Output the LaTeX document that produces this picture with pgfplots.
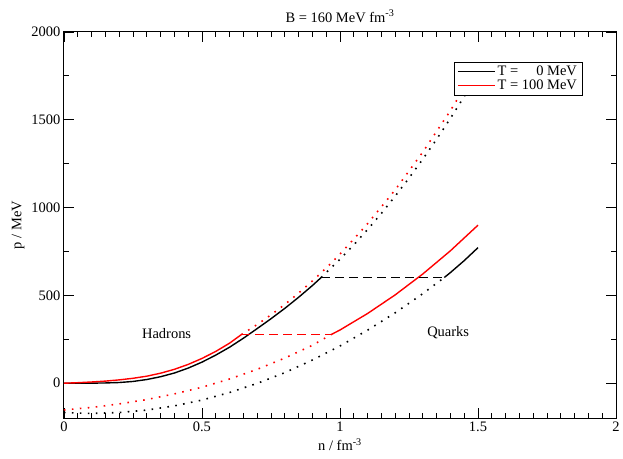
\documentclass[border=0pt]{standalone}
\usepackage{fontspec}
\setmainfont{Liberation Serif}
\usepackage{pgfplots}
\pgfplotsset{compat=1.18}

\begin{document}
\begin{tikzpicture}
\begin{axis}[
  scale only axis, width=553pt, height=387pt,
  xmin=0, xmax=2, ymin=-200, ymax=2000,
  xtick={0,0.5,1,1.5,2}, ytick={0,500,1000,1500,2000},
  minor x tick num=9, minor y tick num=1,
  tick align=inside, major tick length=10pt, minor tick length=5pt,
  scaled ticks=false,
  /pgf/number format/assume math mode=true,
  /pgf/number format/set thousands separator={},
  tick label style={font=\fontsize{14.5pt}{17pt}\selectfont},
  label style={font=\fontsize{14.5pt}{17pt}\selectfont},
  title style={font=\fontsize{14.5pt}{17pt}\selectfont},
  axis line style={line width=0.9pt},
  every tick/.style={black, line width=0.8pt},
  title={B = 160 MeV fm\textsuperscript{-3}},
  xlabel={n / fm\textsuperscript{-3}},
  ylabel={p / MeV},
  legend style={at={(0.9385,0.9225)}, anchor=north east, draw=black, fill=white,
    font=\fontsize{14.5pt}{17pt}\selectfont, inner xsep=3pt, inner ysep=2pt, row sep=-1pt},
  legend cell align=left,
  legend image code/.code={\draw[#1, line width=1.4pt, solid] (0pt,0pt) -- (22pt,0pt);
    \path (-3pt,0pt) -- (34pt,0pt);},
  clip=false,
]
  % hadron branches
  \addplot[black, line width=1.4pt] coordinates {(0,0) (0.05,0) (0.1,0.5) (0.15,1.5) (0.2,4) (0.25,10) (0.3,21) (0.35,37) (0.4,58) (0.45,86) (0.5,120) (0.55,160) (0.6,205) (0.65,256) (0.7,311) (0.75,367) (0.8,426) (0.85,489) (0.9,556) (0.932,602)};
  \addplot[red, line width=1.4pt] coordinates {(0,0) (0.05,3) (0.1,7) (0.15,12) (0.2,19) (0.25,28) (0.3,40) (0.35,57) (0.4,79) (0.45,107) (0.5,141) (0.55,181) (0.6,228) (0.643,277)};
  \legend{T = \phantom{10}0 MeV, T = 100 MeV}
  % hadron extensions
  \addplot[black, line width=1.6pt, dash pattern=on 1.6pt off 6.4pt] coordinates {(0.932,602) (1.0,706) (1.05,788) (1.1,875) (1.15,967) (1.2,1065) (1.25,1168) (1.3,1276) (1.35,1389) (1.4,1508) (1.45,1632) (1.5,1762)};
  \addplot[red, line width=1.6pt, dash pattern=on 1.6pt off 6.4pt] coordinates {(0.643,277) (0.7,334) (0.75,389) (0.8,448) (0.85,513) (0.9,582) (0.95,656) (1.0,735) (1.1,908) (1.2,1101) (1.3,1316) (1.4,1552) (1.5,1810)};
  % quark branches
  \addplot[black, line width=1.6pt, dash pattern=on 1.6pt off 6.4pt] coordinates {(0,-167) (0.1,-172) (0.2,-167) (0.3,-153) (0.4,-129) (0.5,-96) (0.6,-53) (0.7,-1) (0.8,60) (0.9,132) (1.0,212) (1.1,302) (1.2,401) (1.3,510) (1.378,602)};
  \addplot[black, line width=1.4pt] coordinates {(1.378,602) (1.4,630) (1.45,698) (1.5,772)};
  \addplot[red, line width=1.6pt, dash pattern=on 1.6pt off 6.4pt] coordinates {(0,-152) (0.1,-138) (0.2,-118) (0.3,-93) (0.4,-61) (0.5,-23) (0.6,24) (0.7,79) (0.8,143) (0.9,216) (0.968,277)};
  \addplot[red, line width=1.4pt] coordinates {(0.968,277) (1.0,303) (1.1,397) (1.2,503) (1.3,622) (1.4,754) (1.5,900)};
  % phase coexistence
  \addplot[black, line width=1.4pt, dash pattern=on 9pt off 5pt] coordinates {(0.932,602) (1.378,602)};
  \addplot[red, line width=1.4pt, dash pattern=on 9pt off 5pt] coordinates {(0.643,277) (0.968,277)};
  \node[font=\fontsize{14.5pt}{17pt}\selectfont] at (axis cs:0.372,285) {Hadrons};
  \node[font=\fontsize{14.5pt}{17pt}\selectfont] at (axis cs:1.392,290) {Quarks};
  \coordinate (sw) at (rel axis cs:0,0);
  \coordinate (ne) at (rel axis cs:1,1);
\end{axis}
\path ([shift={(-64pt,-40pt)}]sw) rectangle ([shift={(6pt,32pt)}]ne);
\end{tikzpicture}
\end{document}
